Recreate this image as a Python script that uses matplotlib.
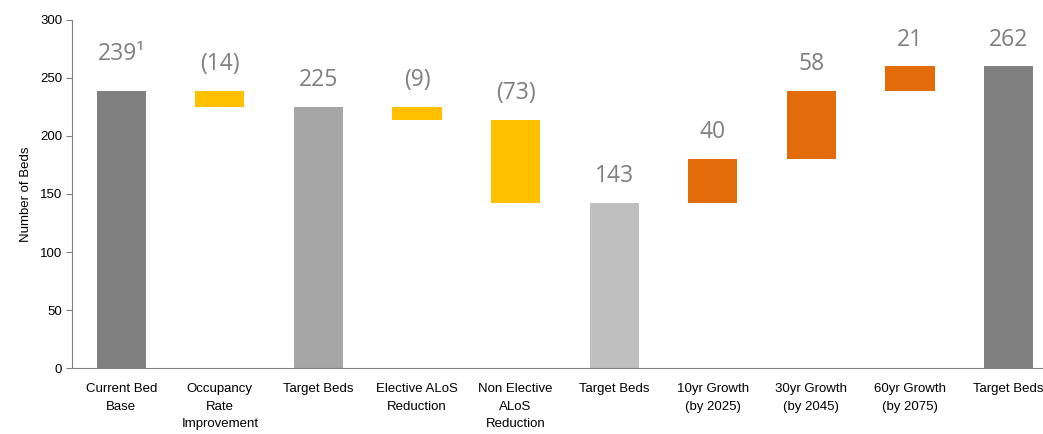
import matplotlib
matplotlib.use("Agg")
import matplotlib.pyplot as plt
from matplotlib import font_manager

categories = ["Current Bed\nBase", "Occupancy\nRate\nImprovement", "Target Beds",
              "Elective ALoS\nReduction", "Non Elective\nALoS\nReduction", "Target Beds",
              "10yr Growth\n(by 2025)", "30yr Growth\n(by 2045)", "60yr Growth\n(by 2075)",
              "Target Beds"]
# drawn bar changes (totals restart the running level)
changes = [239, -14, None, -11, -72, None, 38, 59, 21, None]
kinds = ["total", "delta", "total", "delta", "delta", "total", "delta", "delta", "delta", "total"]
value_labels = ["239\u00b9", "(14)", "225", "(9)", "(73)", "143", "40", "58", "21", "262"]
colors = ["#808080", "#FFC000", "#A6A6A6", "#FFC000", "#FFC000", "#BFBFBF",
          "#E36C0A", "#E36C0A", "#E36C0A", "#808080"]

names = {f.name for f in font_manager.fontManager.ttflist}
tick_font = [f for f in ["Liberation Sans Narrow", "Liberation Sans"] if f in names] + ["DejaVu Sans"]
label_font = [f for f in ["Open Sans", "Noto Sans"] if f in names] + ["DejaVu Sans"]

fig = plt.figure(figsize=(10.43, 4.34), dpi=100)
ax = fig.add_axes([0.069, 0.152, 0.931, 0.802])

running = 0
bottoms, heights = [], []
for k, c in zip(kinds, changes):
    if k == "total":
        if c is not None:
            running = c
        bottoms.append(0)
        heights.append(running)
    else:
        if c < 0:
            bottoms.append(running + c)
            heights.append(-c)
        else:
            bottoms.append(running)
            heights.append(c)
        running += c

x = list(range(len(categories)))
ax.bar(x, heights, bottom=bottoms, width=0.5, color=colors, edgecolor="none")

for xi, b, h, lab in zip(x, bottoms, heights, value_labels):
    top = b + h
    extra = 7 if lab.endswith("\u00b9") else 0
    ax.annotate(lab, (xi, top), xytext=(0, 15 + extra), textcoords="offset points",
                ha="center", va="baseline", fontsize=16.5, color="#7F7F7F",
                family=label_font)

ax.set_xlim(-0.5, 9.35)
ax.set_ylim(0, 300)
ax.set_yticks(range(0, 301, 50))
ax.set_xticks(x)
ax.set_xticklabels(categories, family=tick_font, fontsize=9.5, va="top", linespacing=1.6)
for t in ax.get_yticklabels():
    t.set_family(tick_font)
    t.set_fontsize(9.5)
ax.tick_params(axis="x", length=0, pad=11)
ax.tick_params(axis="y", length=4, color="#808080", direction="out", pad=3)
ax.set_ylabel("Number of Beds", family=tick_font, fontsize=9.5, labelpad=6)
for s in ["top", "right"]:
    ax.spines[s].set_visible(False)
ax.spines["left"].set_color("#808080")
ax.spines["bottom"].set_color("#808080")

fig.savefig("out.png", dpi=100)
